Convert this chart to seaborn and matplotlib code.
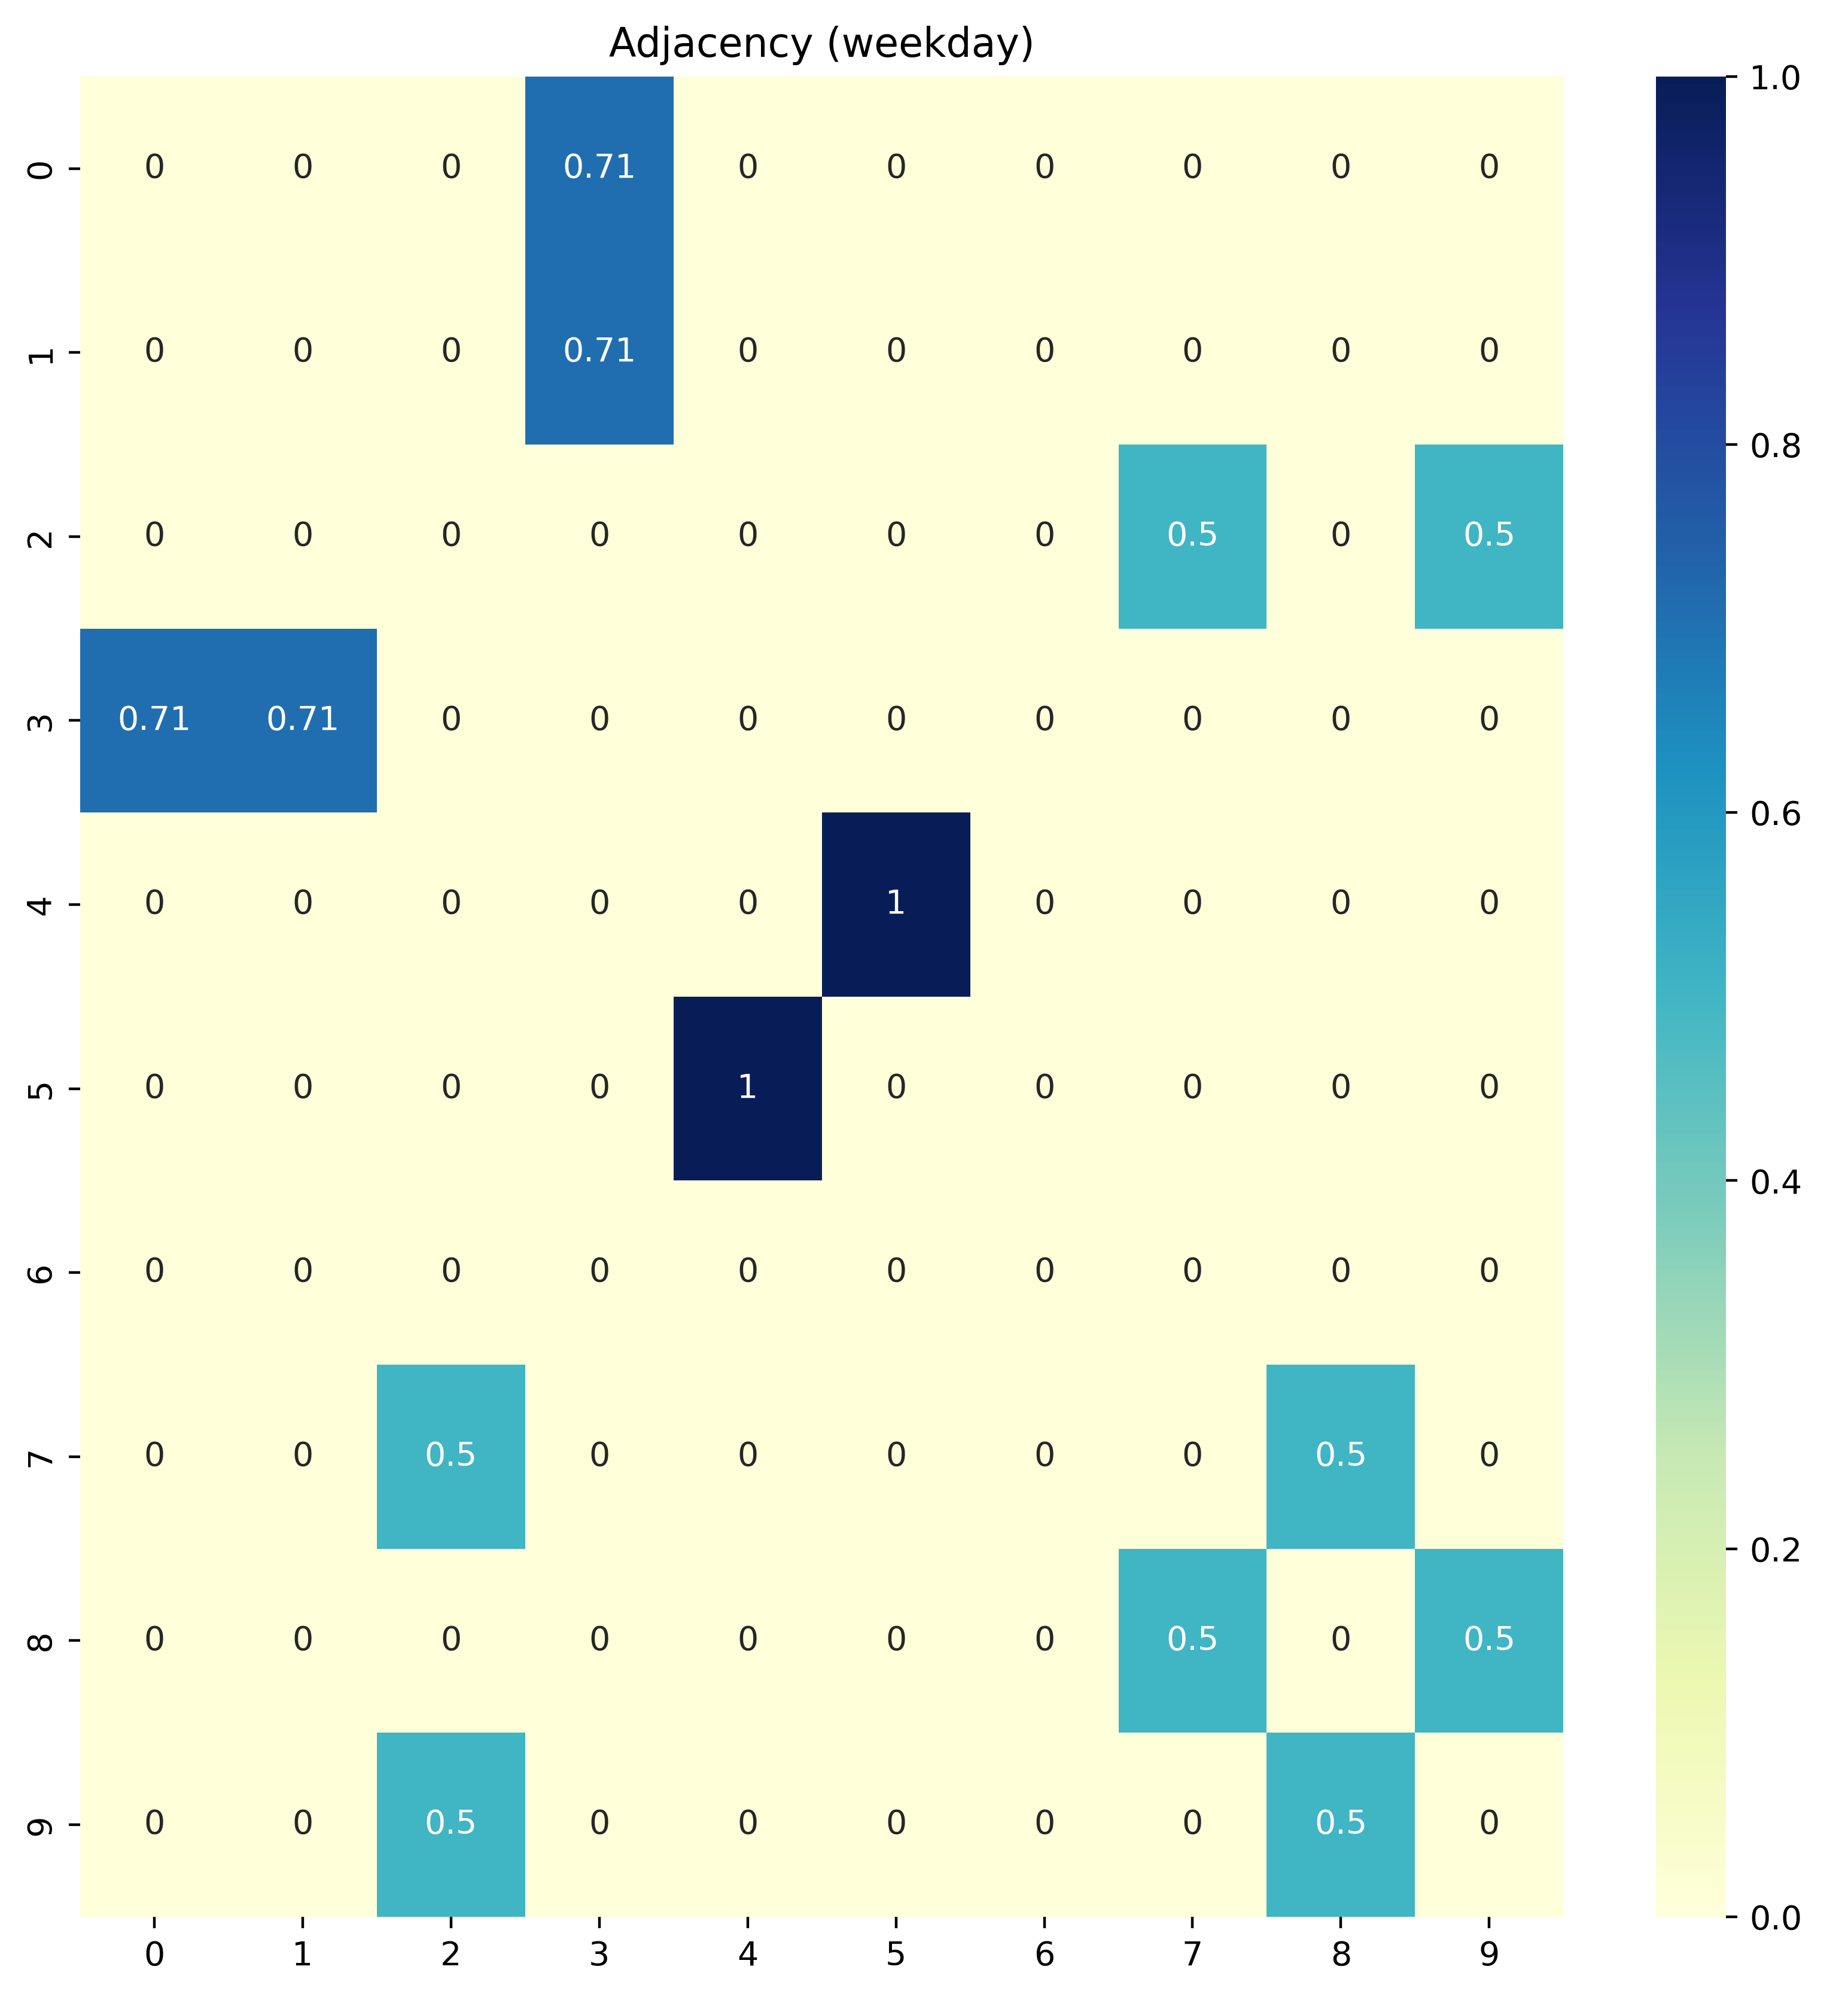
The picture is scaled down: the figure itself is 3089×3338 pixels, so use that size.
import numpy as np
import pandas as pd
import matplotlib
matplotlib.use("Agg")
import matplotlib.pyplot as plt
import seaborn as sns

labels = list(range(10))
row0 = [0, 0, 0, 0.71, 0, 0, 0, 0, 0, 0]
row1 = [0, 0, 0, 0.71, 0, 0, 0, 0, 0, 0]
row2 = [0, 0, 0, 0, 0, 0, 0, 0.5, 0, 0.5]
row3 = [0.71, 0.71, 0, 0, 0, 0, 0, 0, 0, 0]
row4 = [0, 0, 0, 0, 0, 1, 0, 0, 0, 0]
row5 = [0, 0, 0, 0, 1, 0, 0, 0, 0, 0]
row6 = [0, 0, 0, 0, 0, 0, 0, 0, 0, 0]
row7 = [0, 0, 0.5, 0, 0, 0, 0, 0, 0.5, 0]
row8 = [0, 0, 0, 0, 0, 0, 0, 0.5, 0, 0.5]
row9 = [0, 0, 0.5, 0, 0, 0, 0, 0, 0.5, 0]

df = pd.DataFrame([row0, row1, row2, row3, row4, row5, row6, row7, row8, row9],
                  index=labels, columns=labels)

fig = plt.figure(figsize=(3089/400, 3338/400), dpi=400)
ax = fig.add_axes([0.0434, 0.0402, 0.8026, 0.9215])
cax = fig.add_axes([0.896, 0.0402, 0.038, 0.9215])
sns.heatmap(df, annot=True, cmap="YlGnBu", vmin=0, vmax=1, ax=ax, cbar_ax=cax)
ax.set_title("Adjacency (weekday)")
fig.savefig("out.png", dpi=400)
